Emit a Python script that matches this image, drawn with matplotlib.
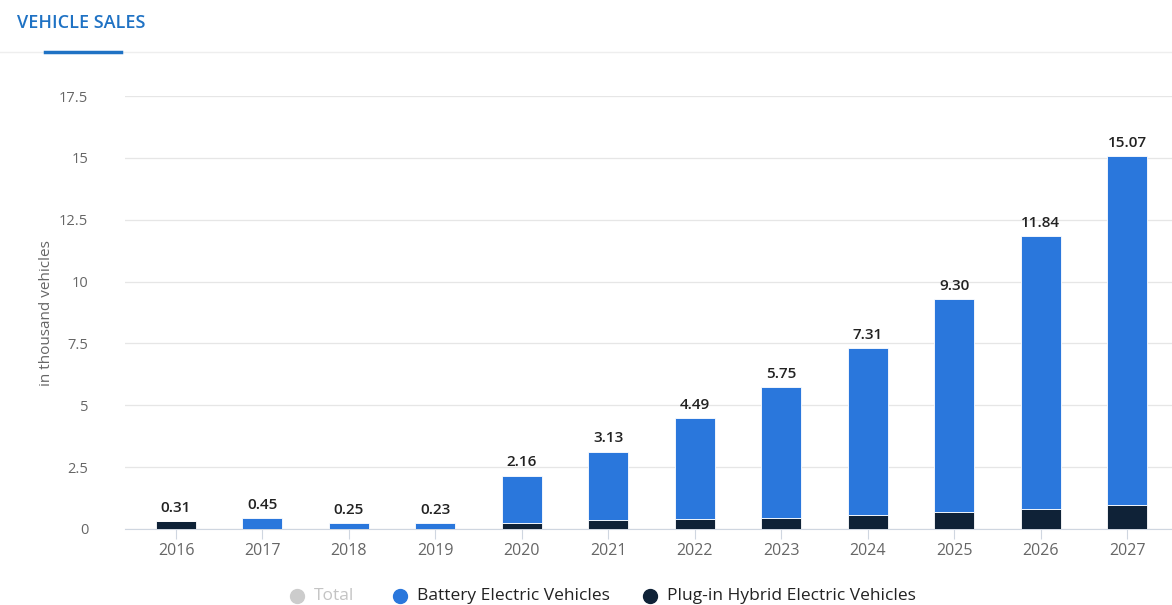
import matplotlib
matplotlib.use('Agg')
import matplotlib.pyplot as plt
from matplotlib.lines import Line2D
import numpy as np

plt.rcParams['font.family'] = ['Open Sans', 'DejaVu Sans']

# Data
years = ['2016', '2017', '2018', '2019', '2020', '2021', '2022', '2023', '2024', '2025', '2026', '2027']
phev = [0.31, 0.0, 0.0, 0.0, 0.23, 0.36, 0.40, 0.46, 0.58, 0.69, 0.80, 0.98]
bev = [0.0, 0.45, 0.25, 0.23, 1.93, 2.77, 4.09, 5.29, 6.73, 8.61, 11.04, 14.09]
totals = [0.31, 0.45, 0.25, 0.23, 2.16, 3.13, 4.49, 5.75, 7.31, 9.30, 11.84, 15.07]
yticks = [0, 2.5, 5, 7.5, 10, 12.5, 15, 17.5]
ytick_labels = ['0', '2.5', '5', '7.5', '10', '12.5', '15', '17.5']

blue = '#2a77dc'
dark = '#0f2237'
grey_txt = '#666666'

W, H = 1172, 605
fig = plt.figure(figsize=(W / 100, H / 100), dpi=100)
# axes: left 125px, right 1172px, bottom (y=0) at 529px, top (17.5) at 96px
ax = fig.add_axes([125 / W, 1 - 529 / H, (1172 - 125) / W, (529 - 96) / H])

x = np.arange(len(years))
ax.bar(x, phev, width=0.463, color=dark, edgecolor='white', linewidth=0.6, zorder=3)
ax.bar(x, bev, width=0.463, bottom=phev, color=blue, edgecolor='white', linewidth=0.6, zorder=3)

for xi, t in zip(x, totals):
    ax.text(xi, t + 0.25, '%.2f' % t, ha='center', va='bottom', fontsize=11,
            color='#222222', fontweight='semibold')

ax.set_ylim(0, 17.5)
ax.set_xlim(-0.59, 11.52)
ax.set_yticks(yticks)
ax.set_yticklabels(ytick_labels)
ax.set_xticks(x)
ax.set_xticklabels(years)
ax.grid(axis='y', color='#e6e6e6', linewidth=0.9, zorder=0)
for s in ['top', 'right', 'left']:
    ax.spines[s].set_visible(False)
ax.spines['bottom'].set_color('#cfd6e0')
ax.tick_params(axis='y', length=0, pad=26.5, labelsize=10.5, labelcolor=grey_txt)
ax.tick_params(axis='x', length=7, color='#cfd6e0', pad=3, labelsize=11.5, labelcolor=grey_txt)
for lbl in ax.get_yticklabels():
    lbl.set_horizontalalignment('right')

fig.text(47 / W, 1 - 313 / H, 'in thousand vehicles', rotation=90, ha='center', va='center',
         fontsize=11, color=grey_txt)

# Header
fig.text(17 / W, 1 - 23 / H, 'VEHICLE SALES', ha='left', va='center', fontsize=13,
         color='#1f72c4', fontweight='semibold')
fig.add_artist(Line2D([0, 1], [1 - 52 / H, 1 - 52 / H], color='#eeeeee', linewidth=1))
fig.add_artist(Line2D([45 / W, 121 / W], [1 - 52 / H, 1 - 52 / H], color='#1f72c4', linewidth=2.5))

# Legend
leg_y = 1 - 596 / H
items = [(297, '#cccccc', 'Total', '#c4c4c4'),
         (400, blue, 'Battery Electric Vehicles', '#222222'),
         (650, dark, 'Plug-in Hybrid Electric Vehicles', '#222222')]
for px, col, lab, tc in items:
    fig.add_artist(Line2D([px / W], [leg_y], marker='o', markersize=10, color=col, linestyle=''))
    fig.text((px + 17) / W, leg_y, lab, ha='left', va='center', fontsize=12.5, color=tc)

fig.savefig('out.png', dpi=100)
